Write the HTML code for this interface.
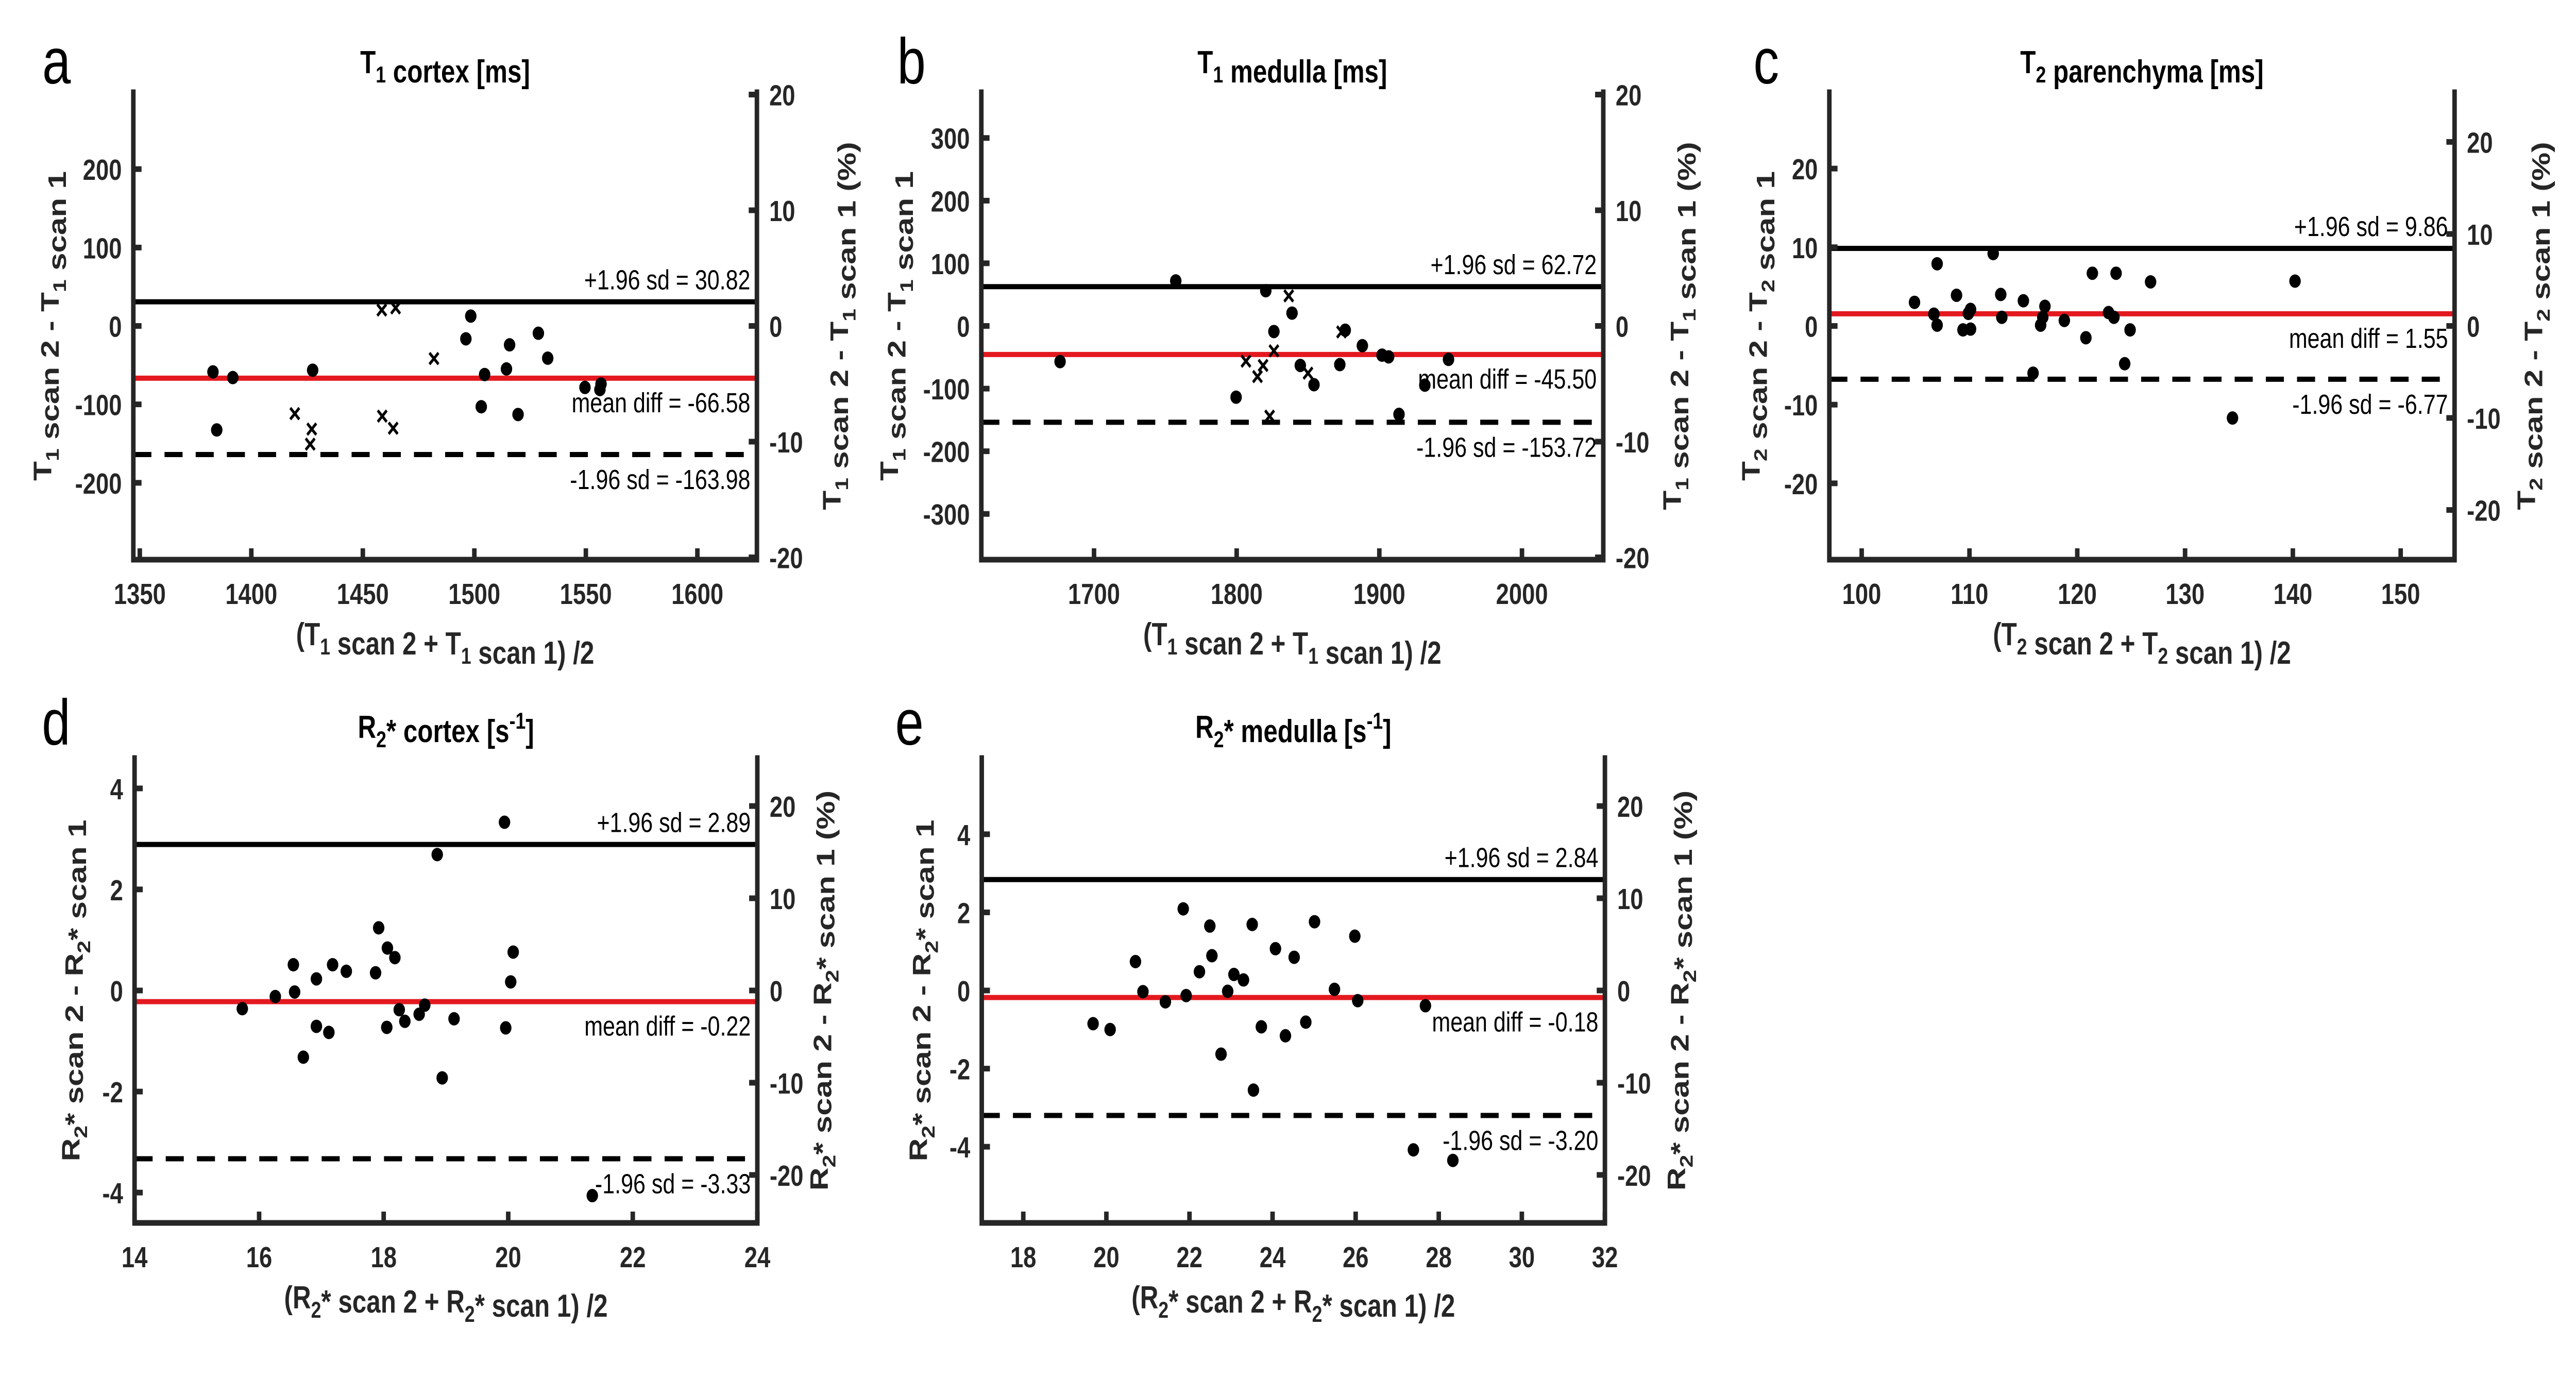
<!DOCTYPE html>
<html><head><meta charset="utf-8"><style>
html,body{margin:0;padding:0;background:#fff;overflow:hidden;width:100%;height:100%;}
svg{display:block;width:100vw;height:100vh;}
text{font-family:"Liberation Sans",Arial,sans-serif;}
</style></head>
<body>
<svg id="fig" viewBox="0 0 6279 2672" preserveAspectRatio="none" xmlns="http://www.w3.org/2000/svg"></svg>
<script>
// ---- data: panel a (T1 cortex) ----
const aDotX = [1382.8,1384.5,1391.7,1427.5,1496.2,1498.4,1503.1,1504.6,1514.4,1515.8,1519.6,1528.7,1532.9,1549.6,1556.3,1556.8];
const aDotY = [-58.6,-132.6,-65.8,-56.4,-16.4,12.6,-103,-61.9,-54.8,-24.1,-112.9,-9.3,-41.1,-78.4,-81.1,-74];
const aCrossX = [1419.5,1427.1,1426.4,1458.5,1464.7,1458.7,1463.6,1481.9];
const aCrossY = [-111.8,-131.5,-150.7,20.3,23,-115,-130.4,-41.6];
const aStats = [30.82,-66.58,-163.98];
const aXTicks = [1350,1400,1450,1500,1550,1600];
const aYTicks = [-200,-100,0,100,200];
// ---- data: panel b (T1 medulla) ----
const bDotX = [1676.2,1757.3,1799.6,1820.4,1826.1,1838.8,1844.6,1854.2,1872.3,1876.1,1888.1,1901.9,1906.5,1913.8,1931.9,1948.5];
const bDotY = [-56.9,71.9,-113.7,56.2,-8.9,20.5,-63,-93.8,-61.7,-6.8,-31.5,-46.6,-49.3,-141.1,-94.5,-53.4];
const bCrossX = [1806.5,1814.6,1818.5,1826.1,1823.1,1836.5,1850,1873.5];
const bCrossY = [-56.2,-80.8,-63,-39.7,-143.9,48,-75.4,-9.6];
const bStats = [62.72,-45.50,-153.72];
const bXTicks = [1700,1800,1900,2000];
const bYTicks = [-300,-200,-100,0,100,200,300];
// ---- data: panel c (T2 parenchyma) ----
const cDotX = [104.9,106.7,107.0,107.0,108.8,109.4,109.9,110.1,110.1,112.2,112.9,113.0,115.0,115.9,116.6,116.8,117.0,118.8,120.8,121.4,122.9,123.4,123.6,124.4,124.9,126.8,134.4,140.2];
const cDotY = [3.0,1.5,7.9,0.1,3.9,-0.5,1.6,-0.4,2.1,9.2,4.0,1.1,3.2,-6.0,0.1,1.1,2.5,0.7,-1.5,6.7,1.7,1.1,6.7,-4.8,-0.5,5.6,-11.7,5.7];
const cStats = [9.86,1.55,-6.77];
const cXTicks = [100,110,120,130,140,150];
const cYTicks = [-20,-10,0,10,20];
// ---- data: panel d (R2* cortex) ----
const dDotX = [15.73,16.26,16.55,16.57,16.71,16.92,16.92,17.12,17.18,17.40,17.87,17.92,18.05,18.06,18.18,18.25,18.34,18.57,18.66,18.86,18.94,19.13,19.94,19.96,20.04,20.08,21.35];
const dDotY = [-0.36,-0.12,0.51,-0.03,-1.32,-0.71,0.23,-0.83,0.51,0.38,0.35,1.24,-0.73,0.84,0.65,-0.38,-0.61,-0.47,-0.29,2.69,-1.73,-0.56,3.33,-0.74,0.17,0.76,-4.06];
const dStats = [2.89,-0.22,-3.33];
const dXTicks = [14,16,18,20,22,24];
const dYTicks = [-4,-2,0,2,4];
// ---- data: panel e (R2* medulla) ----
const eDotX = [19.68,20.09,20.70,20.88,21.42,21.85,21.92,22.24,22.49,22.54,22.76,22.92,23.07,23.30,23.51,23.54,23.73,24.07,24.31,24.52,24.80,25.01,25.49,25.98,26.05,27.39,27.68,28.34];
const eDotY = [-0.85,-1.00,0.74,-0.03,-0.29,2.09,-0.13,0.48,1.65,0.89,-1.63,-0.02,0.41,0.27,1.69,-2.55,-0.93,1.07,-1.16,0.85,-0.81,1.76,0.03,1.39,-0.26,-4.08,-0.39,-4.35];
const eStats = [2.84,-0.18,-3.20];
const eXTicks = [18,20,22,24,26,28,30,32];
const eYTicks = [-4,-2,0,2,4];
const pctTicks = [-20,-10,0,10,20];
const statNames = ['+1.96 sd = ','mean diff = ','-1.96 sd = '];

const NS = 'http://www.w3.org/2000/svg';
const svg = document.getElementById('fig');
const AX = '#262626';
function mk(tag, parent, attrs){ const e=document.createElementNS(NS,tag); for(const k in attrs) e.setAttribute(k,attrs[k]); parent.appendChild(e); return e; }

const sub = (c)=>`<tspan dy="18" font-size="0.72em">${c}</tspan><tspan dy="-18">`;
const T1 = 'T'+sub('1')+'</tspan>', T2='T'+sub('2')+'</tspan>';
const R2 = 'R'+sub('2')+'</tspan><tspan dy="-10">*</tspan><tspan dy="10"></tspan>';

const panels = [
 {id:'a',L:325,R:1845,T:179,B:1086,xmin:1347.1,xmax:1626.7,ymin:-298,ymax:298,rlim:20.2,dx:aDotX,dy:aDotY,cx:aCrossX,cy:aCrossY,st:aStats,xt:aXTicks,yt:aYTicks,
  title:T1+' cortex [ms]',q:T1,lx:103,rx:2027,letX:103,titleY:142,letY:162},
 {id:'b',L:2392,R:3908,T:179,B:1086,xmin:1621,xmax:2057,ymin:-373,ymax:373,rlim:20.2,dx:bDotX,dy:bDotY,cx:bCrossX,cy:bCrossY,st:bStats,xt:bXTicks,yt:bYTicks,
  title:T1+' medulla [ms]',q:T1,lx:2167,rx:4075,letX:2187,titleY:142,letY:162},
 {id:'c',L:4459,R:5983,T:179,B:1086,xmin:97,xmax:155,ymin:-29.7,ymax:29.7,rlim:25.4,dx:cDotX,dy:cDotY,cx:[],cy:[],st:cStats,xt:cXTicks,yt:cYTicks,
  title:T2+' parenchyma [ms]',q:T2,lx:4267,rx:6157,letX:4274,titleY:142,letY:162},
 {id:'d',L:328,R:1846,T:1471,B:2373,xmin:14,xmax:24,ymin:-4.6,ymax:4.6,rlim:25.2,dx:dDotX,dy:dDotY,cx:[],cy:[],st:dStats,xt:dXTicks,yt:dYTicks,
  title:R2+' cortex [s<tspan dy="-26" font-size="0.72em">-1</tspan><tspan dy="26">]</tspan>',q:R2,lx:172,rx:1996,letX:102,titleY:1432,letY:1445},
 {id:'e',L:2393,R:3912,T:1471,B:2373,xmin:17,xmax:32,ymin:-5.95,ymax:5.95,rlim:25.2,dx:eDotX,dy:eDotY,cx:[],cy:[],st:eStats,xt:eXTicks,yt:eYTicks,
  title:R2+' medulla [s<tspan dy="-26" font-size="0.72em">-1</tspan><tspan dy="26">]</tspan>',q:R2,lx:2238,rx:4086,letX:2182,titleY:1432,letY:1445}
];

panels.forEach(p=>{
  const g = mk('g',svg,{});
  
  
  const sx = v=> p.L + (v-p.xmin)/(p.xmax-p.xmin)*(p.R-p.L);
  const sy = v=> p.B - (v-p.ymin)/(p.ymax-p.ymin)*(p.B-p.T);
  const sr = v=> p.B - (v+p.rlim)/(2*p.rlim)*(p.B-p.T);
  const cxm = (p.L+p.R)/2, cym=(p.T+p.B)/2;

  const let_ = mk('text',g,{x:p.letX,y:p.letY,'font-size':125,fill:'#000'});
  let_.textContent = p.id;
  
  

  const tt = mk('text',g,{x:cxm,y:p.titleY,'font-size':62,'font-weight':'bold','text-anchor':'middle',fill:'#000'});
  tt.innerHTML = p.title;
  
  

  const yU=sy(p.st[0]), yM=sy(p.st[1]), yLo=sy(p.st[2]);
  const lu = mk('line',g,{x1:p.L,x2:p.R,y1:yU,y2:yU,stroke:'#000','stroke-width':10});
  
  
  const lm = mk('line',g,{x1:p.L,x2:p.R,y1:yM,y2:yM,stroke:'#e3191f','stroke-width':10});
  
  
  const ll = mk('line',g,{x1:p.L,x2:p.R,y1:yLo,y2:yLo,stroke:'#000','stroke-width':10,'stroke-dasharray':'44 32'});
  
  

  const offs=[-24,66,67], ys=[yU,yM,yLo];
  const nm=['upper-limit-label','mean-diff-label','lower-limit-label'];
  p.st.forEach((v,i)=>{
    const t = mk('text',g,{x:p.R-16,y:ys[i]+offs[i],'font-size':54,'text-anchor':'end',fill:'#000'});
    t.textContent = statNames[i]+v.toFixed(2);
    
    
  });

  p.dx.forEach((x,i)=>{
    const c = mk('ellipse',g,{cx:sx(x),cy:sy(p.dy[i]),rx:14,ry:13,fill:'#000'});
    
    
  });
  p.cx.forEach((x,i)=>{
    const X=sx(x), Y=sy(p.cy[i]), s=11;
    const c = mk('path',g,{d:`M${X-s} ${Y-s}L${X+s} ${Y+s}M${X-s} ${Y+s}L${X+s} ${Y-s}`,stroke:'#000','stroke-width':6,fill:'none'});
    
    
  });

  const ax = mk('path',g,{d:`M${p.L} ${p.T}L${p.L} ${p.B}L${p.R} ${p.B}L${p.R} ${p.T}`,stroke:AX,'stroke-width':11,fill:'none','stroke-linecap':'square'});
  
  

  p.xt.forEach(v=>{
    const X=sx(v);
    const tk = mk('line',g,{x1:X,x2:X,y1:p.B,y2:p.B-22,stroke:AX,'stroke-width':11});
    
    
    const t = mk('text',g,{x:X,y:p.B+86,'font-size':57,'font-weight':'bold','text-anchor':'middle',fill:AX});
    t.textContent=v;
    
    
  });
  p.yt.forEach(v=>{
    const Y=sy(v);
    const tk = mk('line',g,{x1:p.L,x2:p.L+20,y1:Y,y2:Y,stroke:AX,'stroke-width':11});
    
    
    const t = mk('text',g,{x:p.L-28,y:Y+21,'font-size':57,'font-weight':'bold','text-anchor':'end',fill:AX});
    t.textContent=v;
    
    
  });
  pctTicks.forEach(v=>{
    const Y=sr(v);
    const tk = mk('line',g,{x1:p.R,x2:p.R-20,y1:Y,y2:Y,stroke:AX,'stroke-width':11});
    
    
    const t = mk('text',g,{x:p.R+30,y:Y+21,'font-size':57,'font-weight':'bold','text-anchor':'start',fill:AX});
    t.textContent=v;
    
    
  });

  const xl = mk('text',g,{x:cxm,y:p.B+166,'font-size':62,'font-weight':'bold','text-anchor':'middle',fill:AX});
  xl.innerHTML = '('+p.q+' scan 2 + '+p.q+' scan 1) /2';
  
  

  const yl = mk('text',g,{x:0,y:0,'font-size':62,'font-weight':'bold','text-anchor':'middle',fill:AX,transform:`translate(${p.lx+22},${cym}) rotate(-90)`});
  yl.innerHTML = p.q+' scan 2 - '+p.q+' scan 1';
  
  

  const yr = mk('text',g,{x:0,y:0,'font-size':62,'font-weight':'bold','text-anchor':'middle',fill:AX,transform:`translate(${p.rx+22},${cym}) rotate(-90)`});
  yr.innerHTML = p.q+' scan 2 - '+p.q+' scan 1 (%)';
  
  
});
</script>
</body></html>
